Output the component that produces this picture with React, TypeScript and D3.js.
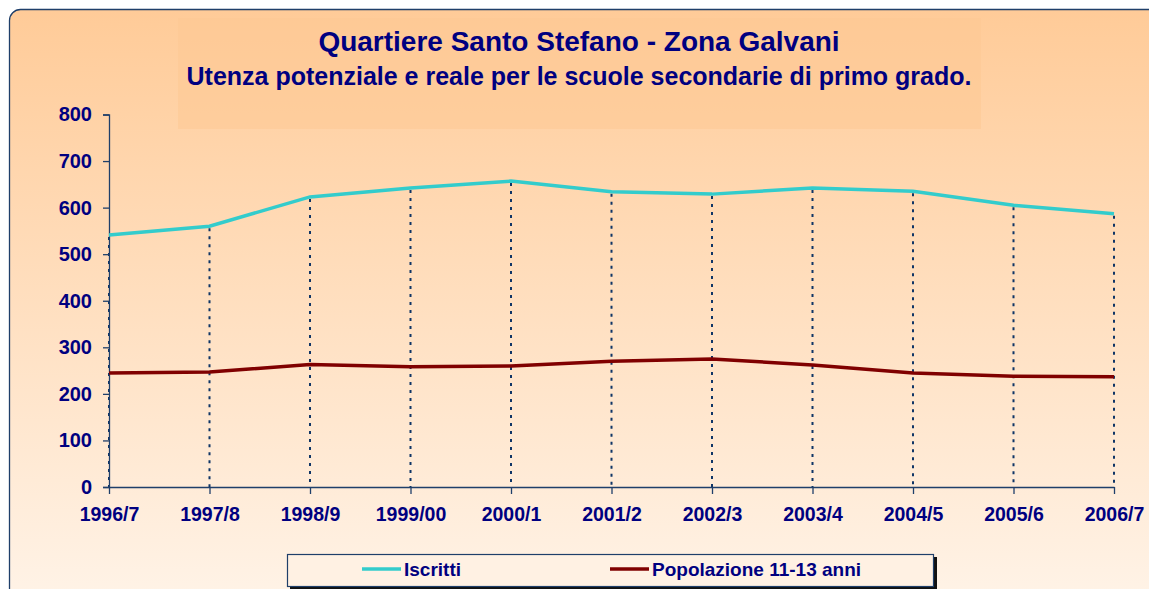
import React, { useEffect, useRef } from 'react';
import * as d3 from 'd3';

const years = ['1996/7', '1997/8', '1998/9', '1999/00', '2000/1', '2001/2', '2002/3', '2003/4', '2004/5', '2005/6', '2006/7'];
const iscritti = [541, 560, 623, 642, 657, 634, 629, 642, 635, 605, 587];
const popolazione = [245, 247, 263, 258, 260, 270, 275, 262, 245, 238, 237];
const yTicks = [0, 100, 200, 300, 400, 500, 600, 700, 800];

const W = 1149;
const H = 589;
const NAVY = '#000080';
const AXIS = '#1F3F6A';
const FONT = 'Arial, "Liberation Sans", sans-serif';

const App = () => {
    const ref = useRef<SVGSVGElement | null>(null);

    useEffect(() => {
        if (!ref.current) return;
        const svg = d3.select(ref.current);
        svg.selectAll('*').remove();

        const defs = svg.append('defs');
        const grad = defs.append('linearGradient')
            .attr('id', 'bg').attr('x1', 0).attr('y1', 0).attr('x2', 0).attr('y2', 1);
        grad.append('stop').attr('offset', '0%').attr('stop-color', '#FFCB98');
        grad.append('stop').attr('offset', '100%').attr('stop-color', '#FFF3E7');

        // chart area box
        svg.append('rect')
            .attr('x', 9.5).attr('y', 9.5)
            .attr('width', 1160).attr('height', 590)
            .attr('rx', 11)
            .attr('fill', 'url(#bg)')
            .attr('stroke', '#1F3F6A').attr('stroke-width', 1.3);

        // title band
        svg.append('rect')
            .attr('x', 178).attr('y', 18).attr('width', 803).attr('height', 111)
            .attr('fill', '#FEC994').attr('opacity', 0.55);

        svg.append('text')
            .attr('x', 579).attr('y', 51)
            .attr('text-anchor', 'middle')
            .attr('font-family', FONT).attr('font-weight', 'bold')
            .attr('font-size', 28).attr('fill', NAVY)
            .text('Quartiere Santo Stefano - Zona Galvani');

        svg.append('text')
            .attr('x', 579).attr('y', 85)
            .attr('text-anchor', 'middle')
            .attr('font-family', FONT).attr('font-weight', 'bold')
            .attr('font-size', 25).attr('fill', NAVY)
            .text('Utenza potenziale e reale per le scuole secondarie di primo grado.');

        const x = d3.scalePoint<string>().domain(years).range([109, 1114]);
        const y = d3.scaleLinear().domain([0, 800]).range([487, 114.5]);

        // drop lines
        svg.append('g').selectAll('line')
            .data(years)
            .join('line')
            .attr('x1', d => x(d)!).attr('x2', d => x(d)!)
            .attr('y1', (d, i) => y(iscritti[i]) + 2).attr('y2', y(0))
            .attr('stroke', '#0F3566').attr('stroke-width', 2)
            .attr('stroke-dasharray', '3,5');

        // y axis
        const yAxis = svg.append('g')
            .attr('transform', `translate(109,0)`)
            .call(d3.axisLeft(y).tickValues(yTicks).tickSize(6).tickPadding(11));
        yAxis.select('.domain').attr('stroke', AXIS).attr('stroke-width', 1.3);
        yAxis.selectAll('.tick line').attr('stroke', AXIS).attr('stroke-width', 1.3);
        yAxis.selectAll('.tick text')
            .attr('font-family', FONT).attr('font-weight', 'bold')
            .attr('font-size', 20).attr('fill', NAVY);

        // x axis
        const xAxis = svg.append('g')
            .attr('transform', `translate(0,${y(0)})`)
            .call(d3.axisBottom(x).tickSize(7).tickSizeOuter(0).tickPadding(13));
        xAxis.select('.domain').attr('stroke', AXIS).attr('stroke-width', 1.3);
        xAxis.selectAll('.tick line').attr('stroke', AXIS).attr('stroke-width', 1.3);
        xAxis.selectAll('.tick text')
            .attr('font-family', FONT).attr('font-weight', 'bold')
            .attr('font-size', 19.5).attr('fill', NAVY);

        const line = d3.line<number>()
            .x((d, i) => x(years[i])!)
            .y(d => y(d));

        svg.append('path').datum(popolazione)
            .attr('d', line).attr('fill', 'none')
            .attr('stroke', '#800000').attr('stroke-width', 3.5);
        svg.append('path').datum(iscritti)
            .attr('d', line).attr('fill', 'none')
            .attr('stroke', '#33CCCC').attr('stroke-width', 3.5);

        // legend
        const lg = svg.append('g');
        lg.append('rect')
            .attr('x', 290).attr('y', 557).attr('width', 647).attr('height', 32)
            .attr('fill', '#111');
        lg.append('rect')
            .attr('x', 287.5).attr('y', 554.5).attr('width', 646).attr('height', 32)
            .attr('fill', '#FFF1E3').attr('stroke', '#1F3F6A').attr('stroke-width', 1.2);
        const items = [
            { name: 'Iscritti', color: '#33CCCC', x0: 362 },
            { name: 'Popolazione 11-13 anni', color: '#800000', x0: 610 },
        ];
        items.forEach(it => {
            lg.append('line')
                .attr('x1', it.x0).attr('x2', it.x0 + 39)
                .attr('y1', 569).attr('y2', 569)
                .attr('stroke', it.color).attr('stroke-width', 3.5);
            lg.append('text')
                .attr('x', it.x0 + 42).attr('y', 576)
                .attr('font-family', FONT).attr('font-weight', 'bold')
                .attr('font-size', 19).attr('fill', NAVY)
                .text(it.name);
        });
    }, []);

    return (
        <div style={{ position: 'fixed', left: 0, top: 0, width: W, height: H, background: '#fff' }}>
            <svg ref={ref} width={W} height={H} style={{ display: 'block' }} />
        </div>
    );
};

export default App;
